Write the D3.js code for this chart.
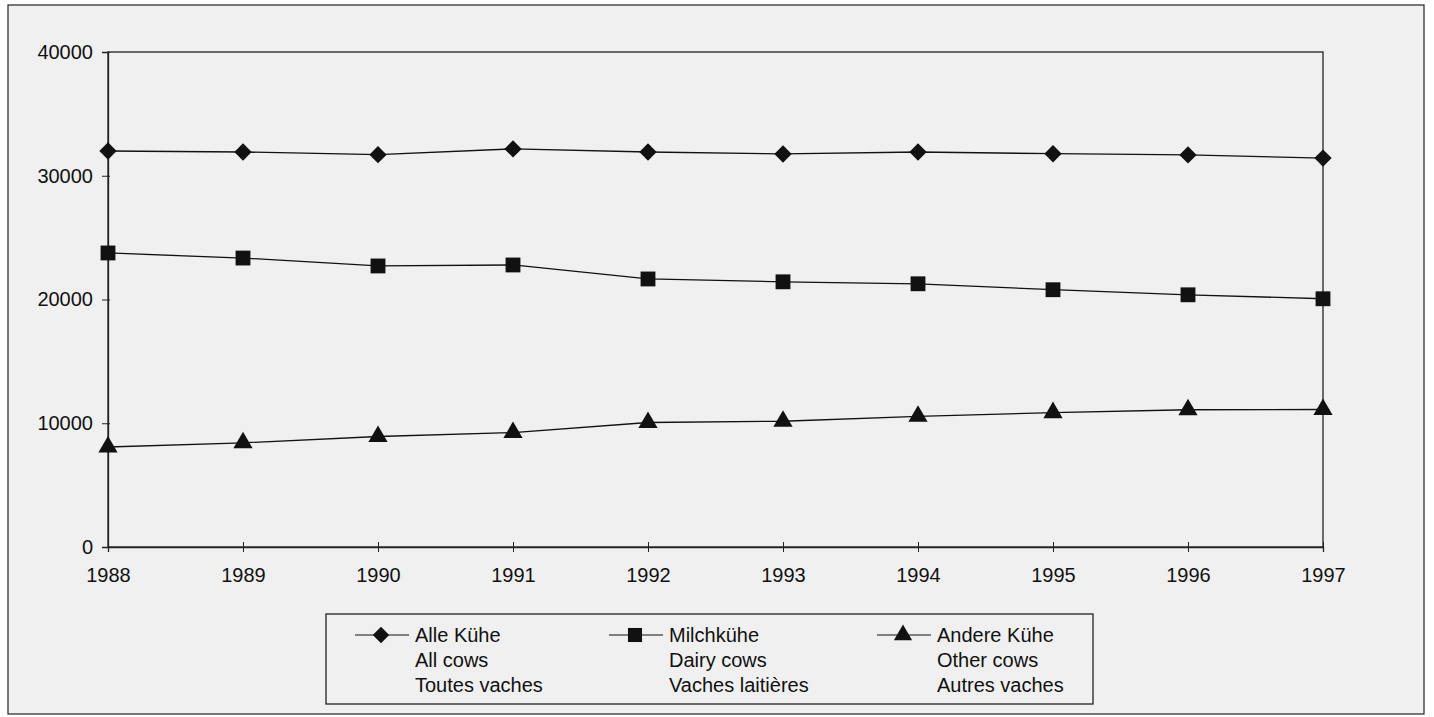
<!DOCTYPE html>
<html><head><meta charset="utf-8">
<script src="https://cdn.jsdelivr.net/npm/d3@7"></script>
<style>body{margin:0;background:#fff}svg{display:block}text{font-family:"Liberation Sans",Arial,sans-serif;fill:#111}</style>
</head><body><svg id="c" width="1434" height="717"></svg>
<script>
const years = [1988,1989,1990,1991,1992,1993,1994,1995,1996,1997];
const allCows = [32000,31920,31700,32170,31920,31760,31920,31780,31680,31430];
const dairyCows = [23760,23350,22710,22790,21660,21430,21270,20790,20380,20060];
const otherCows = [8080,8420,8930,9250,10060,10160,10560,10860,11090,11110];
const yTicks = [0,10000,20000,30000,40000];
const legendLabels = [
  ["Alle Kühe","All cows","Toutes vaches"],
  ["Milchkühe","Dairy cows","Vaches laitières"],
  ["Andere Kühe","Other cows","Autres vaches"]
];

const svg = d3.select("#c");
svg.append("rect").attr("x",8).attr("y",5).attr("width",1416).attr("height",709)
  .attr("fill","#f0f0f0").attr("stroke","#333").attr("stroke-width",1.3);

const x = d3.scalePoint().domain(years).range([108,1323]);
const y = d3.scaleLinear().domain([0,40000]).range([547,52]);

svg.append("rect").attr("x",108).attr("y",52).attr("width",1215).attr("height",495)
  .attr("fill","none").attr("stroke","#222").attr("stroke-width",1.3);

const ya = svg.append("g").attr("transform","translate(108,0)")
  .call(d3.axisLeft(y).tickValues(yTicks).tickSize(6).tickFormat(d3.format("d")));
const xa = svg.append("g").attr("transform","translate(0,547)")
  .call(d3.axisBottom(x).tickSize(5));
xa.selectAll(".tick line").attr("y1",-5).attr("y2",5);
ya.selectAll(".tick line").attr("x1",-6).attr("x2",2);
[ya,xa].forEach(a=>{a.select(".domain").attr("stroke","#222").attr("stroke-width",1.3);
  a.selectAll(".tick line").attr("stroke","#222");
  a.selectAll("text").style("font-size","20px").style("font-family","Liberation Sans, Arial, sans-serif").attr("fill","#111");});
ya.selectAll("text").attr("x",-15);
xa.selectAll("text").attr("y",21);

const series = [
  {vals:allCows, sym:d3.symbolSquare, size:150, rot:45},
  {vals:dairyCows, sym:d3.symbolSquare, size:220, rot:0},
  {vals:otherCows, sym:d3.symbolTriangle, size:160, rot:0}
];
const line = d3.line().x((d,i)=>x(years[i])).y(d=>y(d));
series.forEach(s=>{
  svg.append("path").attr("d",line(s.vals)).attr("fill","none").attr("stroke","#111").attr("stroke-width",1.3);
  svg.selectAll(null).data(s.vals).enter().append("path")
    .attr("d",d3.symbol().type(s.sym).size(s.size))
    .attr("transform",(d,i)=>`translate(${x(years[i])},${y(d)}) rotate(${s.rot})`)
    .attr("fill","#111");
});

// legend
svg.append("rect").attr("x",326).attr("y",614).attr("width",767).attr("height",90)
  .attr("fill","#f0f0f0").attr("stroke","#222").attr("stroke-width",1.3);
const lx = [355,609,877];
series.forEach((s,i)=>{
  const g = svg.append("g").attr("transform",`translate(${lx[i]},635)`);
  g.append("line").attr("x1",0).attr("x2",54).attr("stroke","#111").attr("stroke-width",1.2);
  g.append("path").attr("d",d3.symbol().type(s.sym).size(s.size*0.9)).attr("transform",`translate(26,0) rotate(${s.rot})`).attr("fill","#111");
  legendLabels[i].forEach((t,j)=>{
    g.append("text").attr("x",60).attr("y",j*25).attr("dy","0.35em").style("font-size","20px").text(t);
  });
});
</script></body></html>
